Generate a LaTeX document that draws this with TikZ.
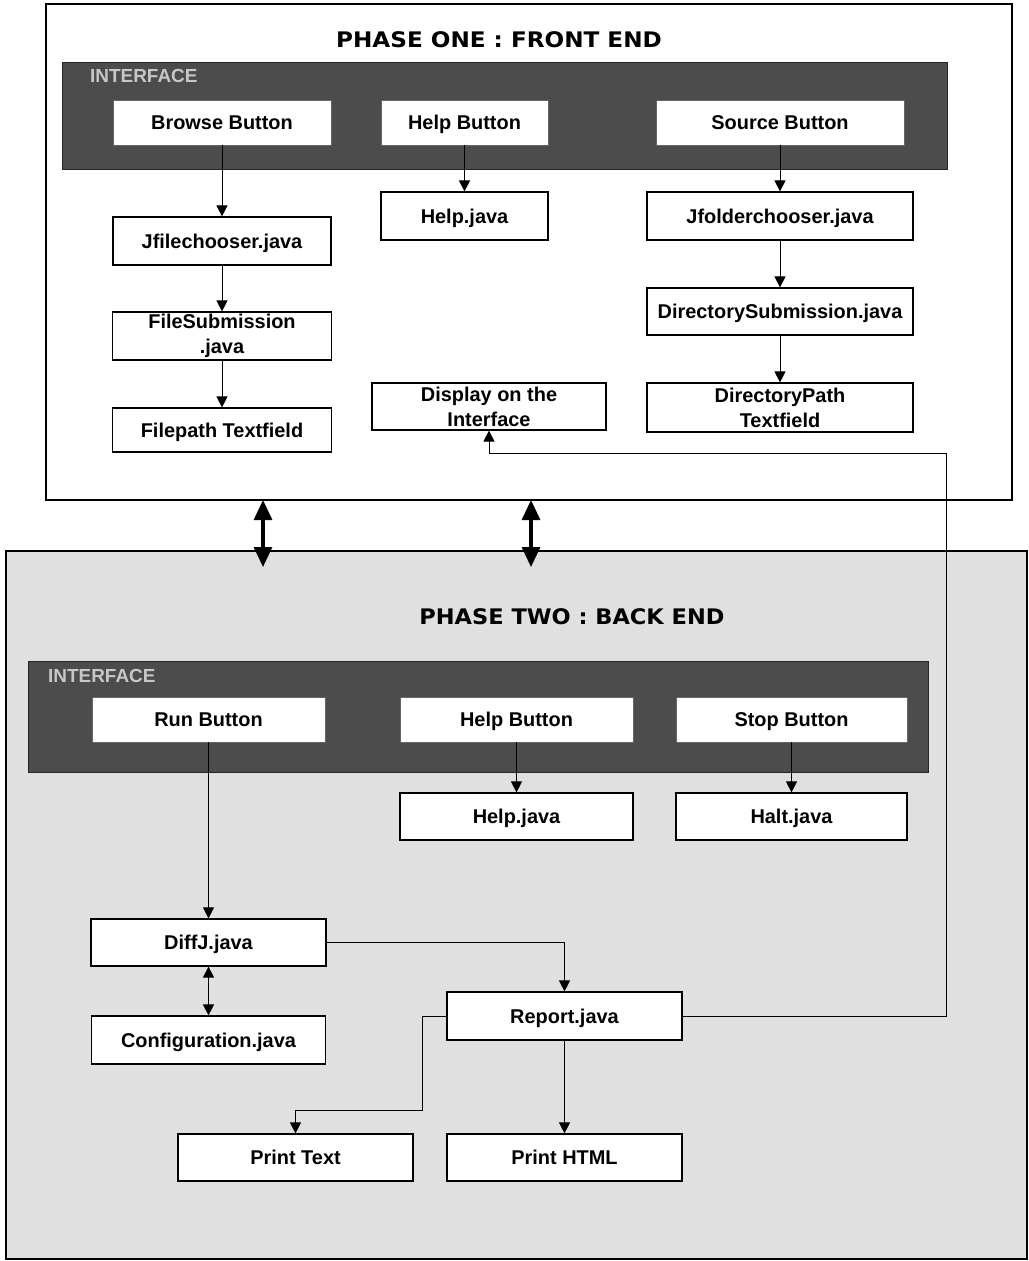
\documentclass[tikz,border=0pt]{standalone}
\usepackage{fontspec}
\setmainfont{Liberation Sans}
\newfontfamily\titlefont{DejaVu Sans}
\usetikzlibrary{arrows.meta}
\begin{document}
\begin{tikzpicture}[x=1bp,y=-1bp,
  phaseone/.style={draw=black,line width=1.3bp,fill=white},
  phasetwo/.style={draw=black,line width=1.3bp,fill=black!12},
  ifbar/.style={fill=black!70,draw=black!85,line width=1bp},
  iflabel/.style={anchor=west,inner sep=0pt,text=black!22,font=\fontsize{19}{22}\selectfont\bfseries},
  ptitle/.style={inner sep=0pt,font=\fontsize{21.5}{24}\titlefont\bfseries},
  btn/.style={fill=white,draw=black!60,line width=0.8bp,inner sep=0pt,align=center,font=\fontsize{20}{25}\selectfont\bfseries},
  box/.style={fill=white,draw=black,line width=1.2bp,inner sep=0pt,align=center,font=\fontsize{20}{25}\selectfont\bfseries},
  one/.style={text height=14.5bp,text depth=0bp},
  arr/.style={draw=black,line width=1bp,-{Triangle[length=11bp,width=11bp]}},
  darr/.style={draw=black,line width=1bp,{Triangle[length=11bp,width=11bp]}-{Triangle[length=11bp,width=11bp]}},
  bigarr/.style={draw=black,line width=3.2bp,{Triangle[length=20bp,width=18bp]}-{Triangle[length=20bp,width=18bp]}}
]
\useasboundingbox (0,0) rectangle (1029,1261);
\fill[white] (0,0) rectangle (1029,1261);

% phase boxes
\draw[phasetwo] (6,551) rectangle (1027,1259);
\draw[phaseone] (46,4) rectangle (1012,500);

% titles
\node[ptitle] (t1) at (499,40) {\scalebox{1.08}[1]{PHASE ONE : FRONT END}};
\node[ptitle] (t2) at (572,617) {\scalebox{1.05}[1]{PHASE TWO : BACK END}};

% interface bars
\draw[ifbar] (62,62) rectangle (947,169);
\node[iflabel] (if1) at (90,76) {INTERFACE};
\draw[ifbar] (28,661) rectangle (928,772);
\node[iflabel] (if2) at (48,676) {INTERFACE};

% phase one nodes
\node[btn,one,minimum width=218bp,minimum height=45bp] (browse) at (222,122.5) {Browse Button};
\node[btn,one,minimum width=167bp,minimum height=45bp] (help1) at (464.5,122.5) {Help Button};
\node[btn,one,minimum width=248bp,minimum height=45bp] (source) at (780,122.5) {Source Button};
\node[box,one,minimum width=218bp,minimum height=48bp] (jfile) at (222,241) {Jfilechooser.java};
\node[box,one,minimum width=167bp,minimum height=48bp] (helpj1) at (464.5,216) {Help.java};
\node[box,one,minimum width=266bp,minimum height=48bp] (jfolder) at (780,216) {Jfolderchooser.java};
\node[box,minimum width=219bp,minimum height=48bp] (filesub) at (222,336) {FileSubmission\\.java};
\node[box,one,minimum width=219bp,minimum height=44bp] (filepath) at (222,430) {Filepath Textfield};
\node[box,minimum width=234bp,minimum height=47bp] (display) at (489,406.5) {Display on the\\Interface};
\node[box,one,minimum width=266bp,minimum height=47bp] (dirsub) at (780,311.5) {DirectorySubmission.java};
\node[box,minimum width=266bp,minimum height=49bp] (dirpath) at (780,407.5) {DirectoryPath\\Textfield};

% phase two nodes
\node[btn,one,minimum width=233bp,minimum height=45bp] (run) at (208.5,719.5) {Run Button};
\node[btn,one,minimum width=233bp,minimum height=45bp] (help2) at (516.5,719.5) {Help Button};
\node[btn,one,minimum width=231bp,minimum height=45bp] (stop) at (791.5,719.5) {Stop Button};
\node[box,one,minimum width=233bp,minimum height=47bp] (helpj2) at (516.5,816.5) {Help.java};
\node[box,one,minimum width=231bp,minimum height=47bp] (halt) at (791.5,816.5) {Halt.java};
\node[box,one,minimum width=235bp,minimum height=47bp] (diffj) at (208.5,942.5) {DiffJ.java};
\node[box,one,minimum width=234bp,minimum height=48bp] (config) at (208.5,1040) {Configuration.java};
\node[box,one,minimum width=235bp,minimum height=48bp] (report) at (564.5,1016) {Report.java};
\node[box,one,minimum width=235bp,minimum height=47bp] (ptext) at (295.5,1157.5) {Print Text};
\node[box,one,minimum width=235bp,minimum height=47bp] (phtml) at (564.5,1157.5) {Print HTML};

% phase one connectors
\draw[arr] (browse.south) -- (jfile.north);
\draw[arr] (help1.south) -- (helpj1.north);
\draw[arr] (source.south) -- (jfolder.north);
\draw[arr] (jfile.south) -- (filesub.north);
\draw[arr] (filesub.south) -- (filepath.north);
\draw[arr] (jfolder.south) -- (dirsub.north);
\draw[arr] (dirsub.south) -- (dirpath.north);

% phase two connectors
\draw[arr] (run.south) -- (diffj.north);
\draw[arr] (help2.south) -- (helpj2.north);
\draw[arr] (stop.south) -- (halt.north);
\draw[darr] (diffj.south) -- (config.north);
\draw[arr] (diffj.east) -| (report.north);
\draw[arr] (report.south) -- (phtml.north);
\coordinate (k1) at (422,1110);
\draw[arr] (report.west) -| (k1) -| (ptext.north);
\coordinate (fb) at (946,453);
\draw[arr] (report.east) -| (fb) -| (display.south);

% links between phases
\coordinate (a1t) at (263,500);
\coordinate (a1b) at (263,567);
\coordinate (a2t) at (531,500);
\coordinate (a2b) at (531,567);
\draw[bigarr] (a1t) -- (a1b);
\draw[bigarr] (a2t) -- (a2b);
\end{tikzpicture}
\end{document}
